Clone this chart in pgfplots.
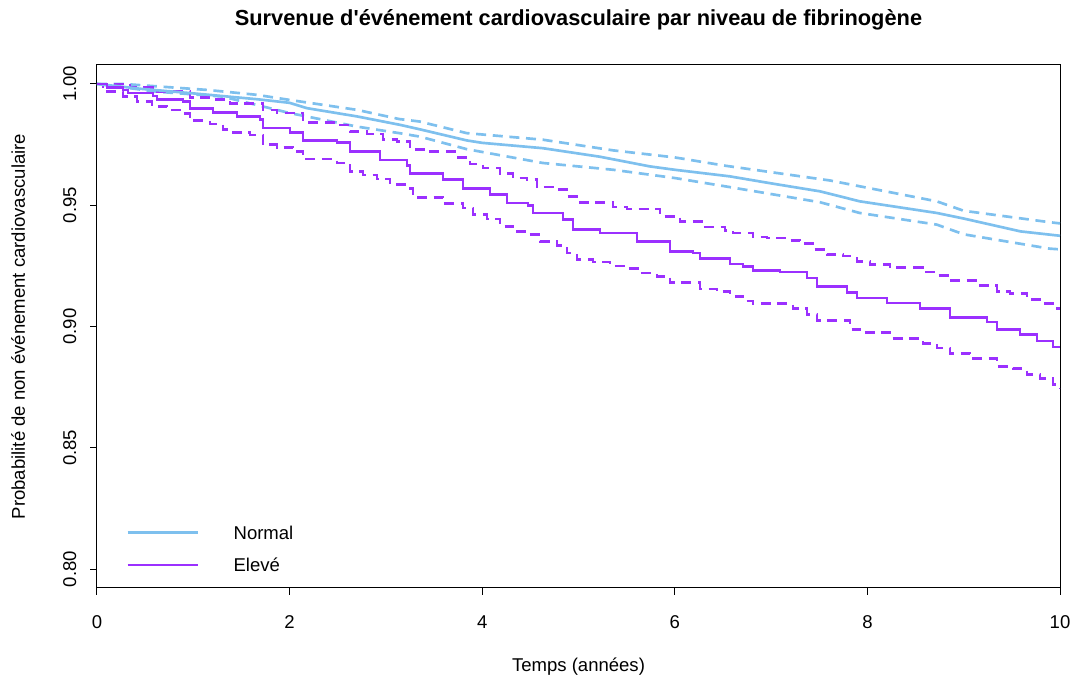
\documentclass[border=0pt]{standalone}
\usepackage{pgfplots}
\pgfplotsset{compat=1.18}
\usepackage{fontspec}
\setmainfont{Liberation Sans}
\definecolor{cnorm}{HTML}{7EC0EE}
\definecolor{celev}{HTML}{9B30FF}
\begin{document}
\fontsize{13.9}{16}\selectfont
\begin{tikzpicture}
\path[use as bounding box] (0,0) rectangle (806.25pt,510.75pt);
\begin{axis}[
  at={(72.75pt,69.75pt)}, anchor=south west,
  scale only axis, width=722.25pt, height=392.25pt,
  xmin=0, xmax=10, ymin=0.7922, ymax=1.0078,
  axis line style={line width=0.75pt},
  xtick={0,2,4,6,8,10},
  ytick={0.80,0.85,0.90,0.95,1.00},
  tick align=outside, tick pos=left,
  major tick length=5.25pt,
  every tick/.style={black, line width=0.75pt},
  /pgf/number format/assume math mode=true,
  xticklabel style={/pgf/number format/fixed},
  yticklabel style={/pgf/number format/fixed, /pgf/number format/fixed zerofill, /pgf/number format/precision=2, rotate=90, anchor=south},
  yticklabel shift=5.5pt,
  xticklabel shift=10.5pt,
  ticklabel style={font=\fontsize{13.9}{16}\selectfont},
  title={\textbf{Survenue d\textquotesingle événement cardiovasculaire par niveau de fibrinogène}},
  title style={at={(axis description cs:0.5,1.0708)}, anchor=center, font=\fontsize{16.35}{19}\selectfont},
  xlabel={Temps (années)},
  xlabel style={at={(axis description cs:0.5,-0.151)}, anchor=center, font=\fontsize{13.9}{16}\selectfont},
  ylabel={Probabilité de non événement cardiovasculaire},
  ylabel style={at={(axis description cs:-0.082,0.5)}, anchor=center, font=\fontsize{13.9}{16}\selectfont},
  legend style={at={(axis description cs:0.026,0.124)}, anchor=north west, draw=none, fill=none,
    font=\fontsize{13.9}{16}\selectfont, row sep=14pt,
    /tikz/every odd column/.append style={column sep=26pt}},
  legend cell align=left,
  legend image code/.code={\draw[#1] (0pt,0pt) -- (52.5pt,0pt);},
  legend style={nodes={inner sep=0pt, text depth=0pt}},
]
% Normal upper CI
\addplot[forget plot, cnorm, line width=2pt, dash pattern=on 7.5pt off 5pt] coordinates {
(0,1.0) (0.27,1.0) (1.15,0.9975) (1.66,0.9955) (2.00,0.9934) (2.70,0.9893) (3.14,0.9855) (3.35,0.9845) (3.84,0.9797) (4.63,0.977) (5.36,0.9726) (6.00,0.9697) (6.52,0.9663) (7.61,0.9602) (8.72,0.9516) (9.00,0.9477) (9.89,0.943) (10,0.9425)
};
% Normal lower CI
\addplot[forget plot, cnorm, line width=2pt, dash pattern=on 7.5pt off 5pt] coordinates {
(0,1.0) (0.62,0.9968) (1.30,0.9948) (2.00,0.988) (2.70,0.9824) (3.14,0.9797) (3.35,0.9783) (3.84,0.9731) (4.63,0.9674) (5.36,0.9646) (6.00,0.9612) (6.52,0.9578) (7.51,0.9512) (7.92,0.9468) (8.72,0.942) (9.00,0.938) (9.89,0.9321) (10,0.9318)
};
% Eleve upper CI
\addplot[forget plot, celev, line width=2pt, dash pattern=on 7.5pt off 5pt, const plot] coordinates {
(0,1.0) (0.343,0.9985) (0.582,0.997) (0.966,0.9945) (1.205,0.9937) (1.381,0.992) (1.724,0.9893) (1.869,0.988) (2.139,0.984) (2.492,0.9831) (2.627,0.9804) (2.804,0.9794) (2.970,0.9772) (3.115,0.9763) (3.250,0.9731) (3.427,0.9721) (3.738,0.9698) (3.873,0.967) (4.008,0.9653) (4.185,0.963) (4.320,0.9612) (4.465,0.9605) (4.569,0.9575) (4.735,0.9564) (4.881,0.9536) (5.016,0.9512) (5.358,0.9493) (5.504,0.9484) (5.846,0.9454) (6.054,0.9433) (6.293,0.941) (6.521,0.9396) (6.604,0.9386) (6.812,0.9369) (6.957,0.9365) (7.165,0.9355) (7.300,0.9342) (7.435,0.9317) (7.580,0.9296) (7.747,0.929) (7.892,0.9269) (8.027,0.9255) (8.235,0.9242) (8.578,0.9224) (8.723,0.921) (8.858,0.9189) (9.169,0.9169) (9.346,0.9145) (9.481,0.9136) (9.657,0.9111) (9.792,0.9095) (9.969,0.9073) (10,0.9073)
};
% Eleve lower CI
\addplot[forget plot, celev, line width=2pt, dash pattern=on 7.5pt off 5pt, const plot] coordinates {
(0,1.0) (0.062,0.9968) (0.270,0.9948) (0.415,0.9927) (0.571,0.9907) (0.727,0.9893) (0.862,0.9877) (0.966,0.9848) (1.173,0.9835) (1.308,0.9813) (1.412,0.980) (1.589,0.979) (1.724,0.9749) (1.869,0.9739) (2.035,0.9722) (2.139,0.969) (2.492,0.9674) (2.627,0.9639) (2.762,0.9625) (2.908,0.9608) (3.043,0.9584) (3.219,0.957) (3.281,0.9533) (3.593,0.9506) (3.801,0.9488) (3.904,0.9461) (4.050,0.9443) (4.185,0.9413) (4.320,0.9392) (4.476,0.9379) (4.600,0.9351) (4.777,0.9333) (4.881,0.9303) (4.984,0.9276) (5.151,0.9266) (5.327,0.9249) (5.504,0.9238) (5.639,0.9221) (5.815,0.9207) (5.950,0.918) (6.262,0.9155) (6.438,0.9145) (6.573,0.9125) (6.708,0.9105) (6.812,0.9095) (7.227,0.9073) (7.373,0.905) (7.477,0.9026) (7.819,0.8988) (7.923,0.8974) (8.235,0.8951) (8.578,0.893) (8.723,0.8912) (8.858,0.8889) (9.065,0.8867) (9.346,0.8836) (9.512,0.8826) (9.657,0.8802) (9.792,0.8785) (9.927,0.8761) (10,0.8745)
};
% Normal survival
\addplot[cnorm, line width=2pt] coordinates {
(0,1.0) (0.45,0.998) (0.97,0.9962) (1.30,0.995) (1.66,0.9937) (2.00,0.9922) (2.18,0.990) (2.70,0.9866) (3.15,0.9831) (3.35,0.9813) (3.84,0.9767) (4.00,0.9757) (4.63,0.9735) (5.22,0.970) (5.74,0.966) (6.00,0.9646) (6.57,0.9619) (7.00,0.959) (7.51,0.9557) (7.92,0.9516) (8.72,0.9468) (9.00,0.9445) (9.59,0.9392) (10,0.9374)
};
\addlegendentry{Normal}
% Eleve survival
\addplot[celev, line width=2pt, const plot] coordinates {
(0,1.0) (0.104,0.9986) (0.270,0.9975) (0.322,0.9962) (0.582,0.995) (0.623,0.9937) (0.893,0.9927) (0.966,0.990) (1.205,0.9882) (1.454,0.9866) (1.693,0.9852) (1.724,0.9818) (2.004,0.980) (2.139,0.9767) (2.492,0.9759) (2.627,0.9721) (2.939,0.9687) (3.219,0.9663) (3.250,0.963) (3.593,0.9605) (3.801,0.957) (4.081,0.9543) (4.258,0.9509) (4.476,0.9498) (4.528,0.9468) (4.839,0.944) (4.943,0.940) (5.223,0.9386) (5.607,0.9351) (5.950,0.931) (6.189,0.9303) (6.262,0.9279) (6.573,0.9258) (6.708,0.9246) (6.812,0.9232) (7.092,0.9224) (7.373,0.920) (7.477,0.9166) (7.788,0.9141) (7.892,0.9118) (8.204,0.9097) (8.546,0.9073) (8.858,0.9036) (9.242,0.9018) (9.346,0.8988) (9.585,0.8967) (9.761,0.894) (9.927,0.8916) (10,0.8916)
};
\addlegendentry{Elevé}
\end{axis}
\end{tikzpicture}
\end{document}
